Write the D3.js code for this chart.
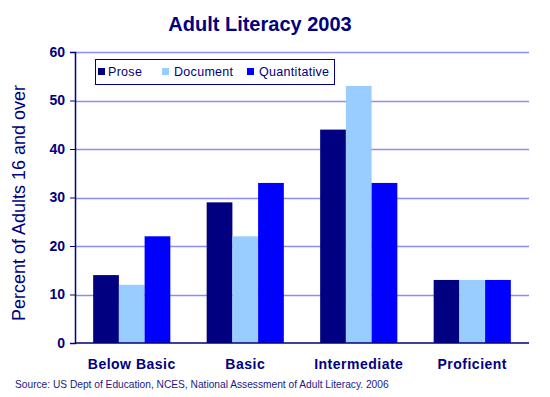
<!DOCTYPE html>
<html><head><meta charset="utf-8">
<script src="https://cdn.jsdelivr.net/npm/d3@7"></script>
<style>body{margin:0;background:#fff}svg{display:block}text{font-family:"Liberation Sans",Arial,sans-serif}</style>
</head><body>
<script>
const categories = ["Below Basic", "Basic", "Intermediate", "Proficient"];
const seriesNames = ["Prose", "Document", "Quantitative"];
const prose = [14, 29, 44, 13];
const documentVals = [12, 22, 53, 13];
const quantitative = [22, 33, 33, 13];
const yTicks = [0, 10, 20, 30, 40, 50, 60];
const colors = ["#000080", "#99ccff", "#0000ff"];
const seriesValues = [prose, documentVals, quantitative];

const W = 550, H = 397;
const m = {l: 75, r: 21, t: 52, b: 54};
const navy = "#000080";
const svg = d3.select("body").append("svg").attr("width", W).attr("height", H);

const x0 = d3.scaleBand().domain(categories).range([m.l, W - m.r]).paddingInner(0.32).paddingOuter(0.16);
const x1 = d3.scaleBand().domain(seriesNames).range([0, x0.bandwidth()]);
const y = d3.scaleLinear().domain([0, 60]).range([H - m.b, m.t]);

// gridlines
svg.append("g").selectAll("line").data(yTicks.filter(d => d > 0)).join("line")
  .attr("x1", m.l).attr("x2", W - m.r)
  .attr("y1", d => Math.round(y(d)) + 0.5).attr("y2", d => Math.round(y(d)) + 0.5)
  .attr("stroke", "#8c8cf5").attr("stroke-width", 1.5);

// bars
const rows = categories.map((c, i) => ({c, vals: seriesValues.map((s, j) => ({name: seriesNames[j], v: s[i], color: colors[j]}))}));
svg.append("g").selectAll("g").data(rows).join("g")
  .attr("transform", d => `translate(${x0(d.c)},0)`)
  .selectAll("rect").data(d => d.vals).join("rect")
  .attr("x", d => x1(d.name)).attr("width", x1.bandwidth())
  .attr("y", d => y(d.v)).attr("height", d => y(0) - y(d.v))
  .attr("fill", d => d.color);

// y axis
const yAxis = d3.axisLeft(y).tickValues(yTicks).tickSize(5).tickPadding(5);
const gy = svg.append("g").attr("transform", `translate(${m.l},0)`).call(yAxis);
gy.select(".domain").attr("stroke", navy).attr("stroke-width", 1.5);
gy.selectAll(".tick line").attr("stroke", navy);
gy.selectAll(".tick text").attr("fill", navy).attr("font-size", 14).attr("font-weight", "bold")
  .style("font-family", '"Liberation Sans", Arial, sans-serif');

// x axis baseline
svg.append("line").attr("x1", m.l).attr("x2", W - m.r).attr("y1", y(0)).attr("y2", y(0))
  .attr("stroke", navy).attr("stroke-width", 1.5);

// x labels
const xAxis = d3.axisBottom(x0).tickSize(0).tickPadding(16);
const gx = svg.append("g").attr("transform", `translate(0,${y(0)})`).call(xAxis);
gx.select(".domain").remove();
gx.selectAll(".tick text").attr("fill", navy).attr("font-size", 14).attr("font-weight", "bold")
  .attr("letter-spacing", 0.5)
  .style("font-family", '"Liberation Sans", Arial, sans-serif');

// title
svg.append("text").attr("x", 260).attr("y", 31).attr("text-anchor", "middle")
  .attr("fill", navy).attr("font-size", 20).attr("font-weight", "bold").text("Adult Literacy 2003");

// y title
svg.append("text").attr("transform", `translate(25,${203}) rotate(-90)`)
  .attr("text-anchor", "middle").attr("fill", navy).attr("font-size", 18).text("Percent of Adults 16 and over");

// source
svg.append("text").attr("x", 15).attr("y", 388).attr("fill", "#1a1a85").attr("font-size", 10.2)
  .text("Source: US Dept of Education, NCES, National Assessment of Adult Literacy. 2006");

// legend
const lg = svg.append("g").attr("transform", "translate(95,59)");
lg.append("rect").attr("x", 0.5).attr("y", 0.5).attr("width", 239).attr("height", 25).attr("fill", "#fff").attr("stroke", navy).attr("stroke-width", 1);
const sqX = [3, 67, 152];
const txX = [13, 79, 164];
seriesNames.forEach((n, i) => {
  lg.append("rect").attr("x", sqX[i]).attr("y", 9).attr("width", 7).attr("height", 7).attr("fill", colors[i]);
  lg.append("text").attr("x", txX[i]).attr("y", 17).attr("fill", navy).attr("font-size", 12.5)
    .attr("letter-spacing", 0.3).text(n);
});
</script>
</body></html>
